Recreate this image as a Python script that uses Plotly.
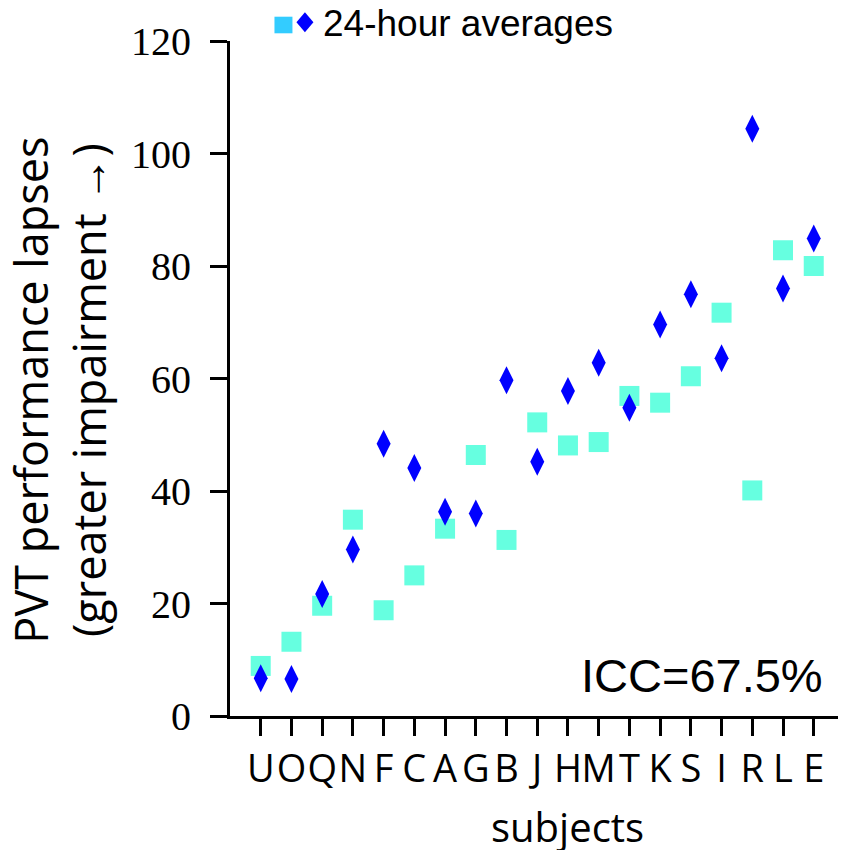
import plotly.graph_objects as go

subjects = ["U", "O", "Q", "N", "F", "C", "A", "G", "B", "J",
            "H", "M", "T", "K", "S", "I", "R", "L", "E"]
squares = [8.9, 13.2, 19.6, 34.9, 18.8, 25.0, 33.3, 46.4, 31.3, 52.2,
           48.1, 48.7, 56.9, 55.7, 60.4, 71.7, 40.1, 82.8, 80.0]
diamonds = [6.7, 6.6, 21.7, 29.6, 48.4, 44.1, 36.3, 36.0, 59.7, 45.2,
            57.8, 62.8, 54.8, 69.6, 75.0, 63.6, 104.4, 76.0, 84.9]
y_ticks = [0, 20, 40, 60, 80, 100, 120]

# page body has an 8px margin: size the figure so it ends at the window edge
OFF = 8
W, H = 846 - OFF, 850 - OFF
L, R, T, B = 229.5 - OFF, 0, 41 - OFF, 850 - 716
PW, PH = W - L - R, H - T - B


def px(x):
    """page pixel x -> paper x"""
    return (x - OFF - L) / PW


def py(y):
    """page pixel y -> paper y"""
    return (H - B - (y - OFF)) / PH


fig = go.Figure()
fig.add_trace(go.Scatter(
    x=subjects, y=squares, mode="markers",
    marker=dict(symbol="square", size=20, color="#66ffe0", line=dict(width=0)),
    showlegend=False, cliponaxis=False))
fig.add_trace(go.Scatter(
    x=subjects, y=diamonds, mode="markers",
    marker=dict(symbol="diamond-tall", size=20, color="#0000ff", line=dict(width=0)),
    showlegend=False, cliponaxis=False))

shapes = [
    dict(type="rect", xref="paper", yref="paper",
         x0=px(274), x1=px(292), y0=py(33.3), y1=py(16.7),
         fillcolor="#33ccff", line=dict(width=0)),
    dict(type="path", xref="paper", yref="paper",
         path=f"M {px(304.5)} {py(12.3)} L {px(313)} {py(22.3)} L {px(304.5)} {py(32.3)} L {px(296)} {py(22.3)} Z",
         fillcolor="#0000ff", line=dict(width=0)),
]

annotations = [
    dict(text="24-hour averages", xref="paper", yref="paper",
         x=px(321), y=py(23), xanchor="left", yanchor="middle", showarrow=False,
         font=dict(family="Liberation Sans, Arial", size=37, color="black")),
    dict(text="ICC=67.5%", xref="paper", yref="paper",
         x=px(825), y=py(675), xanchor="right", yanchor="middle", showarrow=False,
         font=dict(family="Liberation Sans, Arial", size=47, color="black")),
    dict(text="PVT performance lapses<br>(greater impairment \u2192)", xref="paper", yref="paper",
         x=px(59), y=py(390), xanchor="center", yanchor="middle", showarrow=False,
         textangle=-90,
         font=dict(family="Open Sans, Noto Sans", size=45, color="black")),
    dict(text="subjects", xref="paper", yref="paper",
         x=px(567), y=py(826), xanchor="center", yanchor="middle", showarrow=False,
         font=dict(family="Open Sans, Noto Sans", size=40, color="black")),
]

fig.update_layout(
    width=W, height=H,
    margin=dict(l=L, r=R, t=T, b=B, pad=0),
    paper_bgcolor="white", plot_bgcolor="white",
    shapes=shapes, annotations=annotations,
    showlegend=False,
)
fig.update_xaxes(
    type="category", categoryorder="array", categoryarray=subjects,
    tickmode="array", tickvals=subjects, ticktext=subjects, tickangle=0,
    range=[-1.0, 19.05], showgrid=False, zeroline=False,
    showline=True, linecolor="black", linewidth=3,
    ticks="outside", ticklen=17, tickwidth=3, tickcolor="black",
    ticklabelstandoff=0,
    tickfont=dict(family="Open Sans, Noto Sans", size=38, color="black"),
)
fig.update_yaxes(
    range=[0, 120], tickvals=y_ticks, ticktext=[str(v) for v in y_ticks],
    showgrid=False, zeroline=False,
    showline=True, linecolor="black", linewidth=3,
    ticks="outside", ticklen=17, tickwidth=3, tickcolor="black",
    ticklabelstandoff=11,
    tickfont=dict(family="Liberation Serif, Times New Roman", size=40, color="black"),
)

fig.write_html("out.html")
